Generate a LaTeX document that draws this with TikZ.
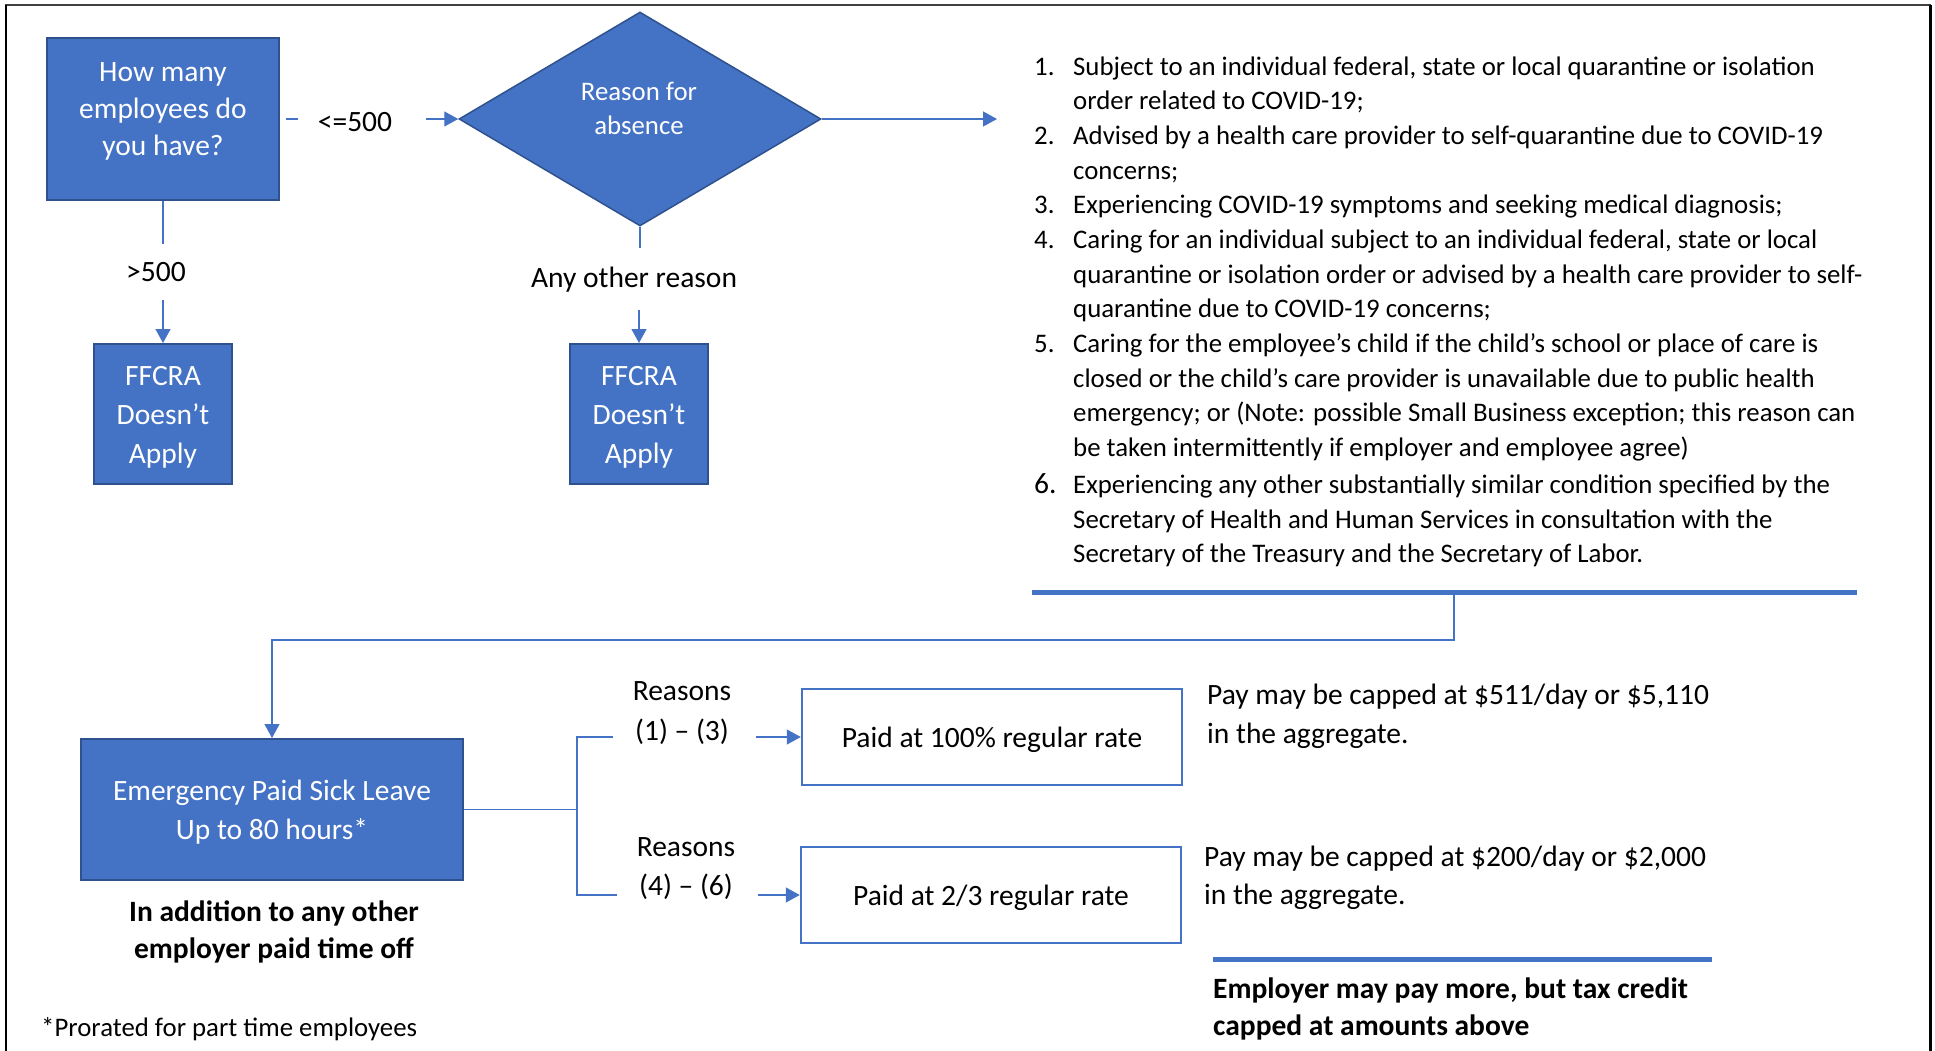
\documentclass[tikz,border=0pt]{standalone}
\usepackage{fontspec}
\setmainfont{Carlito}
\usetikzlibrary{shapes.geometric,arrows.meta}
\definecolor{obl}{HTML}{4472C4}
\definecolor{obd}{HTML}{2F528F}
\newcommand{\mylower}[2]{\raisebox{-#1}[\height][\depth]{#2}}
\newcommand{\mystack}[1]{\begin{tabular}{@{}c@{}}#1\end{tabular}}
\begin{document}
\begin{tikzpicture}[x=1pt,y=-1pt,
  bluebox/.style={draw=obd,fill=obl,line width=2pt,inner sep=0pt,text=white,align=center},
  whitebox/.style={draw=obl,line width=2.5pt,fill=white,inner sep=0pt,minimum width=380pt,minimum height=96pt,font=\fontsize{29.5}{38}\selectfont},
  wtxt/.style={text=white,align=center,inner sep=0pt},
  conn/.style={draw=obl,line width=1.3pt},
  arr/.style={-{Triangle[length=14pt,width=15pt]}},
  lbl/.style={align=center,inner sep=0pt},
  ftn/.style={font=\fontsize{29.5}{38.5}\selectfont},
  bar/.style={draw=obl,line width=5pt}
]
\useasboundingbox (0,0) rectangle (1935,1051);
% frame
\draw[black!75,line width=2pt] (5,5) -- (1931,5);
\draw[black,line width=2.5pt] (6,5) -- (6,1051);
\draw[black,line width=3pt] (1930,5) -- (1930,1051);

% top row
\node[bluebox,minimum width=232pt,minimum height=162pt] (q1) at (163,119) {};
\node[wtxt,font=\fontsize{29.5}{37}\selectfont] (q1t) at (163,111) {How many\\employees do\\you have?};
\node[bluebox,shape=diamond,minimum width=362pt,minimum height=214pt,line width=1.5pt] (dmd) at (640,119) {};
\node[wtxt,font=\fontsize{26.8}{34.5}\selectfont] (dmdt) at (639,108.5) {Reason for\\absence};
\node[bluebox,minimum width=138pt,minimum height=140pt,font=\fontsize{29.5}{39}\selectfont] (ffc1) at (163,414) {\mylower{2.5pt}{\mystack{FFCRA\\Doesn’t\\Apply}}};
\node[bluebox,minimum width=138pt,minimum height=140pt,font=\fontsize{29.5}{39}\selectfont] (ffc2) at (639,414) {\mylower{2.5pt}{\mystack{FFCRA\\Doesn’t\\Apply}}};

\node[lbl,ftn] (lt500) at (355,122) {<=500};
\draw[conn] ([xshift=6pt]q1.east) -- ++(12,0);
\draw[conn,arr] ([xshift=-32pt]dmd.west) -- (dmd.west);

\node[lbl,ftn] (gt500) at (156,272) {>500};
\draw[conn] (q1.south) -- ++(0,43);
\draw[conn,arr] ([yshift=43pt]ffc1.north) -- (ffc1.north);

\node[lbl,ftn] (anyo) at (634,279.5) {Any other reason};
\draw[conn] (dmd.south) -- ++(0,21);
\draw[conn,arr] ([yshift=33pt]ffc2.north) -- (ffc2.north);

\coordinate (lstin) at (997,119);
\draw[conn,arr] (dmd.east) -- (lstin);

% list
\node[anchor=north west,inner sep=0pt,font=\fontsize{26.8}{34.65}\selectfont] (reasons) at (1034,50.7) {%
\begin{tabular}{@{}p{39pt}@{}l@{}}
1. & Subject to an individual federal, state or local quarantine or isolation\\
   & order related to COVID-19;\\
2. & Advised by a health care provider to self-quarantine due to COVID-19\\
   & concerns;\\
3. & Experiencing COVID-19 symptoms and seeking medical diagnosis;\\
4. & Caring for an individual subject to an individual federal, state or local\\
   & quarantine or isolation order or advised by a health care provider to self-\\
   & quarantine due to COVID-19 concerns;\\
5. & Caring for the employee’s child if the child’s school or place of care is\\
   & closed or the child’s care provider is unavailable due to public health\\
   & emergency; or (Note: possible Small Business exception; this reason can\\
   & be taken intermittently if employer and employee agree)\\[2.5pt]
{\fontsize{29.5}{34.65}\selectfont 6.} & Experiencing any other substantially similar condition specified by the\\
   & Secretary of Health and Human Services in consultation with the\\
   & Secretary of the Treasury and the Secretary of Labor.
\end{tabular}};

\coordinate (b1l) at (1032,592);
\coordinate (b1r) at (1857,592);
\coordinate (b1m) at (1454,592);
\draw[bar] (b1l) -- (b1r);

% bottom
\node[bluebox,minimum width=382pt,minimum height=141pt,font=\fontsize{29.5}{39}\selectfont] (epsl) at (272,809.5) {\mylower{2.5pt}{\mystack{Emergency Paid Sick Leave\\Up to 80 hours*}}};
\draw[conn,arr] (b1m) -- ++(0,48) -| (epsl.north);

\node[lbl,font=\bfseries\fontsize{29.5}{37}\selectfont] (addl) at (274,932) {In addition to any other\\employer paid time off};
\node[anchor=base west,inner sep=0pt,font=\fontsize{26.8}{34}\selectfont] (prorate) at (41,1036) {*Prorated for part time employees};

\node[whitebox] (paid1) at (992,737) {\mylower{2.5pt}{Paid at 100\% regular rate}};
\node[whitebox] (paid2) at (991,895) {\mylower{2.5pt}{Paid at 2/3 regular rate}};

\node[lbl,font=\fontsize{29.5}{40}\selectfont] (r13) at (682,713.5) {Reasons\\(1) – (3)};
\node[lbl,font=\fontsize{29.5}{39}\selectfont] (r46) at (686,869) {Reasons\\(4) – (6)};

\coordinate (brk) at (577,809.5);
\coordinate (r13in) at (613,737);
\coordinate (r46in) at (617,895);
\draw[conn] (epsl.east) -- (brk) (r13in) -| (brk) |- (r46in);
\draw[conn,arr] ([xshift=-45pt]paid1.west) -- (paid1.west);
\draw[conn,arr] ([xshift=-42pt]paid2.west) -- (paid2.west);

\node[lbl,align=left,anchor=west,ftn] (cap1) at (1207,716.5) {Pay may be capped at \$511/day or \$5,110\\in the aggregate.};
\node[lbl,align=left,anchor=west,ftn] (cap2) at (1204,878) {Pay may be capped at \$200/day or \$2,000\\in the aggregate.};

\coordinate (b2l) at (1213,959);
\coordinate (b2r) at (1712,959);
\draw[bar] (b2l) -- (b2r);
\node[lbl,align=left,anchor=west,font=\bfseries\fontsize{29.5}{37}\selectfont] (taxnote) at (1213,1009) {Employer may pay more, but tax credit\\capped at amounts above};
\end{tikzpicture}
\end{document}
